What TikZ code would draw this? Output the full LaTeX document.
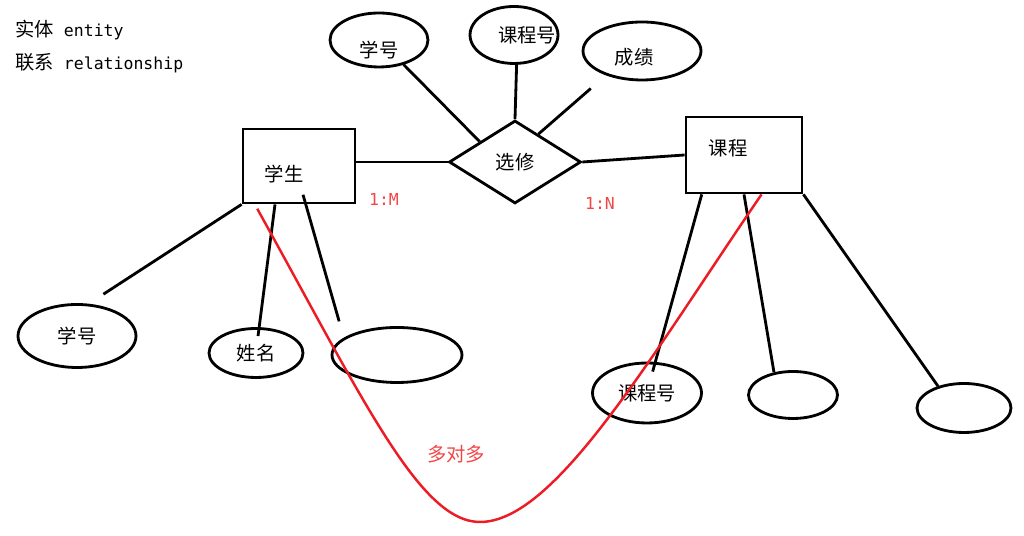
\documentclass[tikz,border=0pt]{standalone}
\usepackage{fontspec}
\setmainfont{Noto Sans CJK SC}
\setmonofont{DejaVu Sans Mono}
\usetikzlibrary{shapes.geometric}
\definecolor{pred}{RGB}{237,28,36}
\definecolor{lred}{RGB}{242,70,70}

\begin{document}
\begin{tikzpicture}[x=0.02cm,y=0.02cm,
    attr/.style={draw,ellipse,line width=1.6pt,inner sep=1pt,font=\fontsize{11}{13}\selectfont},
    ent/.style={draw,rectangle,line width=1.6pt,inner sep=1pt,font=\fontsize{11}{13}\selectfont},
    rel/.style={draw,diamond,line width=1.6pt,inner sep=1pt,font=\fontsize{11}{13}\selectfont},
    txt/.style={inner sep=0pt,font=\fontsize{11}{13}\selectfont},
    card/.style={inner sep=0pt,text=lred,font=\ttfamily\fontsize{9.4}{11}\selectfont},
    link/.style={line width=1.6pt},
    every label/.style={font=\fontsize{11}{13}\selectfont}]
    \useasboundingbox (0,0) rectangle (1024,536);
    % legend
    \node[txt,anchor=west] (lg1) at (15,506) {实体{\ttfamily\fontsize{9.4}{11}\selectfont\ entity}};
    \node[txt,anchor=west] (lg2) at (15,473) {联系{\ttfamily\fontsize{9.4}{11}\selectfont\ relationship}};
    % entities and relationship
    \node[ent,minimum width=2.24cm,minimum height=1.48cm,label={[xshift=-0.3cm,yshift=-0.16cm]center:学生}] (stu) at (299,370) {};
    \node[rel,minimum width=2.64cm,minimum height=1.66cm] (sel) at (515,374) {选修};
    \node[ent,minimum width=2.32cm,minimum height=1.52cm,label={[xshift=-0.32cm,yshift=0.14cm]center:课程}] (kc) at (744,381) {};
    % attributes of the relationship
    \node[attr,minimum width=1.96cm,minimum height=1.08cm,label={[yshift=-0.2cm]center:学号}] (xh1) at (379,496) {};
    \node[attr,minimum width=1.76cm,minimum height=1.14cm,label={[xshift=0.26cm]center:课程号}] (kt) at (514,501) {};
    \node[attr,minimum width=2.36cm,minimum height=1.16cm,label={[xshift=-0.16cm,yshift=-0.12cm]center:成绩}] (cj) at (642,485) {};
    % attributes of the entities
    \node[attr,minimum width=2.36cm,minimum height=1.26cm] (xh2) at (77,200) {学号};
    \node[attr,minimum width=1.88cm,minimum height=0.98cm] (xm) at (256,183) {姓名};
    \node[attr,minimum width=2.6cm,minimum height=1.1cm] (e1) at (397,181) {};
    \node[attr,minimum width=2.18cm,minimum height=1.2cm] (kh) at (647,143) {课程号};
    \node[attr,minimum width=1.78cm,minimum height=0.94cm] (o2) at (793,141) {};
    \node[attr,minimum width=1.88cm,minimum height=0.98cm] (o3) at (964,128) {};
    % cardinalities
    \node[card] (m) at (384,337) {1:M};
    \node[card] (n) at (600,333) {1:N};
    \node[txt,text=lred] (dd) at (456,82) {多对多};
    % links
    \draw[link] (stu.east |- sel.west) -- (sel.west);
    \draw[link] (sel.east) -- (kc.west);
    \draw[link] (xh1.-45) -- (sel.150);
    \draw[link] (kt.-85) -- (sel.north);
    \draw[link,shorten <=0.4cm] (cj.-146) -- (sel.50);
    \draw[link,shorten >=0.35cm] (stu.south west) -- (xh2.70);
    \draw[link,shorten >=-0.18cm] (stu.-122) -- (xm.83);
    \draw[link,shorten <=-0.2cm,shorten >=0.34cm] (stu.-80) -- (e1.162);
    \draw[link,shorten >=-0.2cm] (kc.-137) -- (kh.75);
    \draw[link] (kc.south) -- (o2.130);
    \draw[link] (kc.south east) -- (o3.140);
    % many to many
    \coordinate (low) at (480,14);
    \draw[pred,line width=1.4pt,shorten <=0.1cm] (stu.-139) .. controls (364,135) and (420,14) .. (low) .. controls (555,14) and (649,177) .. (kc.-66);
\end{tikzpicture}
\end{document}
